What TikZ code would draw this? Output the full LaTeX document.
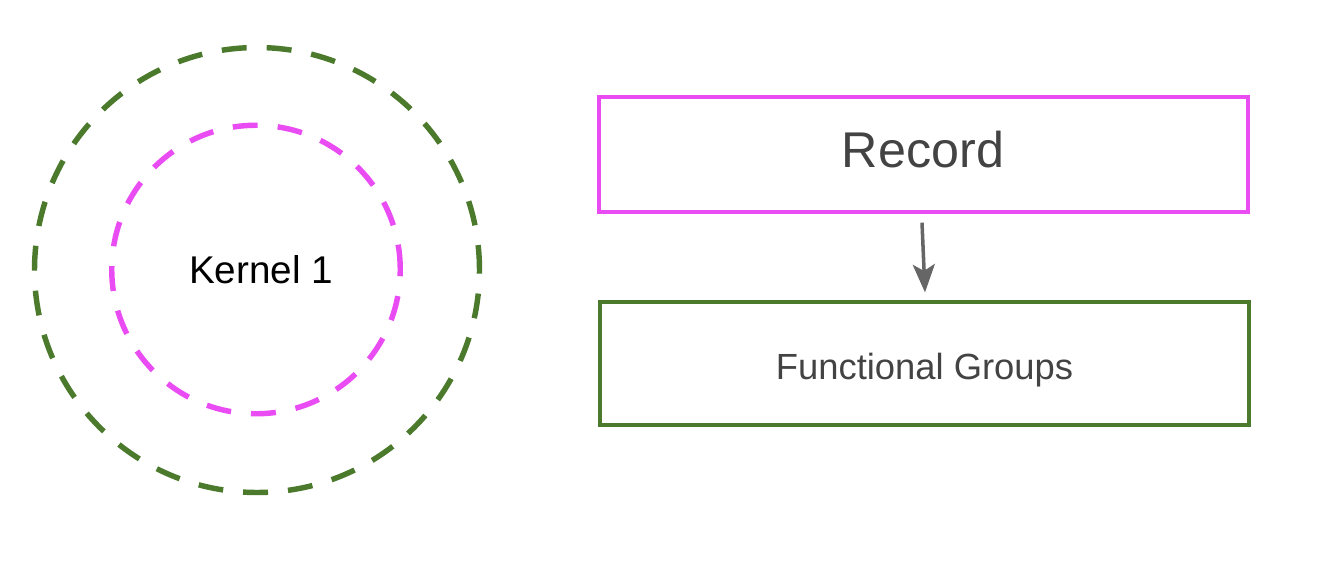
\documentclass[tikz,border=0pt]{standalone}
\usepackage{fontspec}
\setmainfont{Liberation Sans}
\usetikzlibrary{arrows.meta}
\definecolor{dgreen}{HTML}{4B7A2D}
\definecolor{mag}{HTML}{EA4CF4}
\definecolor{txtgrey}{HTML}{434343}
\definecolor{arrgrey}{HTML}{666666}
\tikzset{
  ring/.style={draw, line width=3.1pt, dash pattern=on 14.2pt off 11.4pt, fill=none},
  boxnode/.style={draw, line width=1.8pt, inner sep=0pt, text=txtgrey},
  arr/.style={draw=arrgrey, line width=2pt, -{Stealth[length=0.56cm, width=0.44cm, inset=0.13cm]}}
}
\begin{document}
\begin{tikzpicture}
\useasboundingbox (0,0) rectangle (26.4,-11.28);
\node[ring, draw=dgreen, circle, minimum size=8.9cm, inner sep=0pt] (outer) at (5.14,-5.40) {};
\node[ring, draw=mag, circle, minimum size=5.77cm, inner sep=0pt] (inner) at (5.12,-5.39) {};
\node[font=\fontsize{22}{26}\selectfont, text=black] (k1) at (5.22,-5.40) {Kernel 1};
\node[boxnode, draw=mag, minimum width=12.98cm, minimum height=2.3cm] (rec) at (18.47,-3.09) {};
\node[font=\fontsize{28.6}{33}\selectfont, text=txtgrey] (rect) at (18.46,-3.0) {Record};
\node[boxnode, draw=dgreen, minimum width=12.98cm, minimum height=2.46cm] (fg) at (18.49,-7.27) {};
\node[font=\fontsize{20.7}{25}\selectfont, text=txtgrey] (fgt) at (18.49,-7.41) {Functional Groups};
\draw[arr] ([xshift=-0.03cm,yshift=-0.18cm]rec.south) -- ([xshift=0.01cm,yshift=0.16cm]fg.north);
\end{tikzpicture}
\end{document}
